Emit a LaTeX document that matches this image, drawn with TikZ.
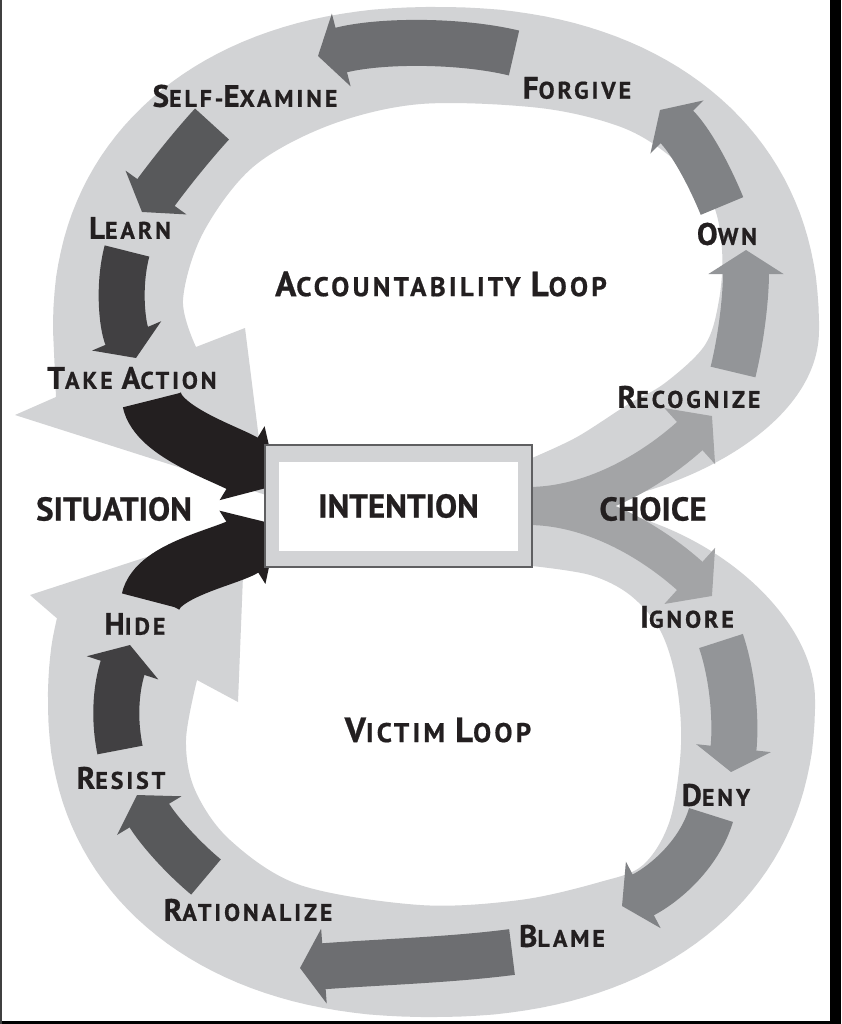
\documentclass[tikz,border=0pt]{standalone}
\usepackage{fontspec}
\setmainfont{PT Sans}[BoldFeatures={FakeBold=0.7}]
\newfontfamily\labfont[LetterSpace=12.0, BoldFeatures={FakeBold=0.7}]{PT Sans}
\usetikzlibrary{arrows.meta}

\definecolor{band}{RGB}{210,211,213}
\definecolor{ink}{RGB}{35,31,32}
\definecolor{shadeA}{RGB}{65,64,66}
\definecolor{shadeB}{RGB}{88,89,91}
\definecolor{shadeC}{RGB}{109,110,113}
\definecolor{shadeD}{RGB}{128,130,133}
\definecolor{shadeE}{RGB}{147,149,152}
\definecolor{shadeF}{RGB}{163,164,166}
\definecolor{boxrim}{RGB}{95,95,97}

\def\inisize{31}
\newcommand{\ini}[1]{{\fontsize{\inisize}{\inisize}\selectfont #1}}

\tikzset{
  lab/.style={font=\labfont\bfseries\fontsize{24}{24}\selectfont\def\inisize{31}, text=ink, inner sep=0pt},
  title/.style={font=\labfont\bfseries\fontsize{27}{27}\selectfont\def\inisize{35}, text=ink, inner sep=0pt},
  key/.style={font=\bfseries\fontsize{33}{33}\selectfont, text=ink, inner sep=0pt},
  flow/.style={line width=46pt, -{Triangle[width=74pt,length=24pt]}},
  fork/.style={draw=shadeF, line width=38pt, -{Triangle[width=74pt,length=30pt]}},
  push/.style={draw=ink, line width=60pt, -{Triangle[width=84pt,length=42pt]}},
  frame/.style={draw=boxrim, line width=1.5pt, fill=band, minimum width=267pt, minimum height=122pt, inner sep=0pt},
  window/.style={fill=white, minimum width=239pt, minimum height=89pt, inner sep=0pt}
}

\begin{document}
\begin{tikzpicture}[x=1pt, y=-1pt]
  \useasboundingbox (0,0) rectangle (841,1024);
  \fill[white] (0,0) rectangle (841,1024);
  % border of the scan
  \fill[black] (830,0) rectangle (841,1024);
  \fill[black] (0,1021) rectangle (841,1024);
  \fill[darkgray] (0,0) rectangle (2,1024);

  % accountability band, ends in a wide head at the left
  \fill[band] (600,502) .. controls (700,485) and (819,420) .. (819,330)
    -- plot[domain=359:271, samples=40] ({436+383*pow(abs(cos(\x)),0.909)}, {330-323*pow(abs(sin(\x)),0.909)})
    -- plot[domain=269:181, samples=40] ({436-383*pow(abs(cos(\x)),0.909)}, {330-323*pow(abs(sin(\x)),0.909)})
    -- (53,330) -- (56,397) -- (15,415) -- (266,495) -- (245,328) -- (196,347)
    -- plot[smooth, tension=.55] coordinates {(196,347) (183,300) (203,233) (253,167) (330,125) (421,104) (540,108) (621,127) (671,157) (711,200) (722,250) (719,300) (705,345) (665,383) (627,405) (577,437) (532,458)}
    -- (532,505) -- cycle;

  % victim band
  \fill[band] (600,508) .. controls (720,530) and (815,620) .. (815,700)
    -- plot[domain=1:89, samples=40] ({431.5+383.5*pow(abs(cos(\x)),0.909)}, {700+317*pow(abs(sin(\x)),0.909)})
    -- plot[domain=91:179, samples=40] ({431.5-383.5*pow(abs(cos(\x)),0.909)}, {700+317*pow(abs(sin(\x)),0.909)})
    -- plot[domain=181:193, samples=8] ({431.5-383.5*pow(abs(cos(\x)),0.909)}, {700-317*pow(abs(sin(\x)),0.909)})
    -- (30,595) -- (245,525) -- (238,702) -- (197,680)
    -- plot[smooth, tension=.55] coordinates {(197,680) (186,740) (195,790) (230,840) (300,885) (420,905) (520,900) (600,882) (643,865) (670,820) (681,745) (676,680) (660,630) (630,595) (590,575) (532,566)}
    -- (532,505) -- cycle;

  % choice fork
  \draw[fork] (528,506) .. controls (590,506) and (650,472) .. (712,416);
  \draw[fork] (528,506) .. controls (590,506) and (650,540) .. (712,596);

  % accountability steps
  \draw[flow, shadeE] (733,372) .. controls (742,335) and (746,295) .. (746,250);
  \draw[flow, shadeD] (722,206) .. controls (708,172) and (690,140) .. (660,110);
  \draw[flow, shadeC] (514,53) .. controls (460,40) and (380,40) .. (318,56);
  \draw[flow, shadeB] (212,124) .. controls (190,148) and (165,180) .. (142,212);
  \draw[flow, shadeA] (127,251) .. controls (118,285) and (122,325) .. (136,358);

  % victim steps
  \draw[flow, shadeE] (721,641) .. controls (734,680) and (736,725) .. (731,772);
  \draw[flow, shadeD] (711,815) .. controls (700,852) and (668,882) .. (622,906);
  \draw[flow, shadeC] (512,952) .. controls (450,960) and (380,962) .. (300,968);
  \draw[flow, shadeB] (206,877) .. controls (182,857) and (158,830) .. (137,795);
  \draw[flow, shadeA] (120,750) .. controls (113,715) and (117,685) .. (130,645);

  % back to intention
  \draw[push] (152,400) .. controls (158,432) and (227,454) .. (278,485);
  \draw[push] (151,601) .. controls (157,570) and (227,557) .. (278,525);

  \node[frame] (intention) at (398.5,506) {};
  \node[window, key] (intentiontext) at (intention) {INTENTION};

  \node[key] (situation) at (114,509) {SITUATION};
  \node[key] (choice) at (653,509) {CHOICE};

  \node[lab] (selfexamine) at (245,96) {\ini{S}ELF-\ini{E}XAMINE};
  \node[lab] (forgive) at (577,88) {\ini{F}ORGIVE};
  \node[lab] (learn) at (130,228) {\ini{L}EARN};
  \node[lab] (own) at (727,234) {\ini{O}WN};
  \node[title] (accloop) at (441,284) {\ini{A}CCOUNTABILITY \ini{L}OOP};
  \node[lab] (takeaction) at (132,378) {\ini{T}AKE \ini{A}CTION};
  \node[lab] (recognize) at (689,397) {\ini{R}ECOGNIZE};

  \node[lab] (ignore) at (687,617) {\ini{I}GNORE};
  \node[lab] (hide) at (135,624) {\ini{H}IDE};
  \node[title] (victimloop) at (438,730) {\ini{V}ICTIM \ini{L}OOP};
  \node[lab] (resist) at (121,778) {\ini{R}ESIST};
  \node[lab] (deny) at (716,795) {\ini{D}ENY};
  \node[lab] (rationalize) at (248,910) {\ini{R}ATIONALIZE};
  \node[lab] (blame) at (562,936) {\ini{B}LAME};
\end{tikzpicture}
\end{document}
